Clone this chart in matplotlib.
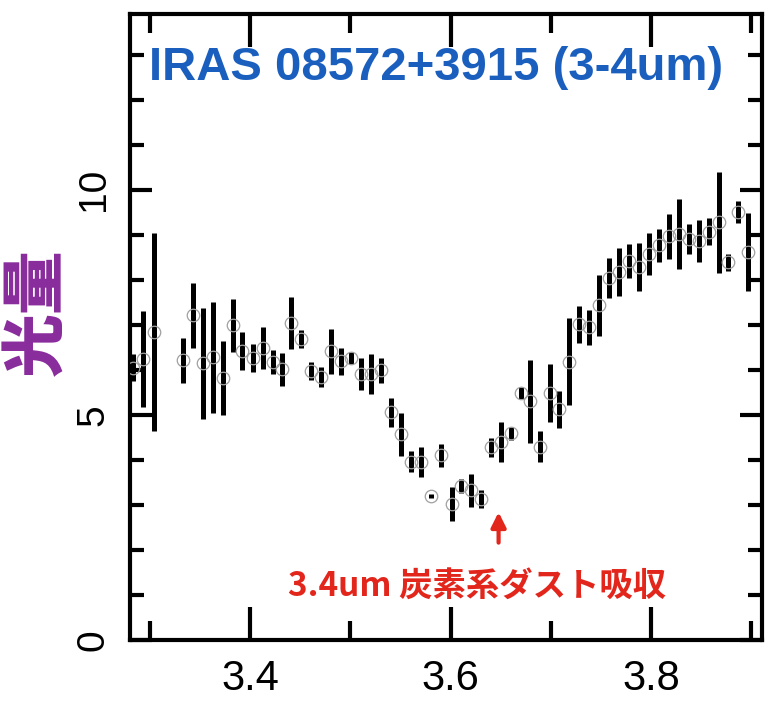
import matplotlib
matplotlib.use("Agg")
import matplotlib.pyplot as plt
from matplotlib.ticker import MultipleLocator

# wavelength (um), flux and error
wave = [3.283, 3.293, 3.304, 3.333, 3.343, 3.353, 3.363, 3.373, 3.383, 3.392,
        3.403, 3.413, 3.423, 3.432, 3.441, 3.451, 3.461, 3.471, 3.481, 3.491,
        3.501, 3.511, 3.521, 3.531, 3.541, 3.551, 3.561, 3.571, 3.581, 3.591,
        3.601, 3.610, 3.620, 3.630, 3.640, 3.650, 3.660, 3.670, 3.679, 3.689,
        3.699, 3.708, 3.718, 3.728, 3.738, 3.748, 3.758, 3.768, 3.778, 3.788,
        3.798, 3.808, 3.818, 3.828, 3.838, 3.848, 3.858, 3.868, 3.877, 3.887,
        3.897]
flux = [6.05, 6.24, 6.84, 6.21, 7.21, 6.14, 6.28, 5.82, 6.99, 6.42,
        6.26, 6.48, 6.18, 6.01, 7.04, 6.69, 5.98, 5.84, 6.41, 6.19,
        6.26, 5.91, 5.91, 5.99, 5.06, 4.57, 3.96, 3.96, 3.20, 4.10,
        3.02, 3.42, 3.32, 3.13, 4.28, 4.40, 4.59, 5.49, 5.30, 4.29,
        5.49, 5.12, 6.18, 7.01, 6.94, 7.43, 8.04, 8.17, 8.42, 8.28,
        8.57, 8.76, 8.96, 9.02, 8.91, 8.86, 9.06, 9.28, 8.39, 9.51,
        8.62]
err = [0.30, 1.07, 2.19, 0.50, 0.72, 1.23, 1.23, 0.82, 0.59, 0.42,
       0.32, 0.46, 0.27, 0.37, 0.58, 0.20, 0.20, 0.22, 0.50, 0.30,
       0.14, 0.36, 0.44, 0.28, 0.32, 0.48, 0.24, 0.33, 0.05, 0.26,
       0.38, 0.16, 0.37, 0.20, 0.21, 0.44, 0.14, 0.13, 0.92, 0.34,
       0.64, 0.41, 0.97, 0.41, 0.39, 0.68, 0.44, 0.54, 0.38, 0.54,
       0.46, 0.36, 0.49, 0.78, 0.33, 0.46, 0.30, 1.12, 0.19, 0.24,
       0.87]

title = "IRAS 08572+3915 (3-4um)"
note = "3.4um 炭素系ダスト吸収"
ylab = "光量"
sans = ["Liberation Sans", "DejaVu Sans"]

fig = plt.figure(figsize=(7.67, 7.01), dpi=100)
ax = fig.add_axes([130 / 767, 61 / 701, 632 / 767, 626 / 701])

ax.errorbar(wave, flux, yerr=err, fmt="none", ecolor="black", elinewidth=3.6, capsize=0, zorder=2)
ax.plot(wave, flux, "o", mfc="none", mec="#a0a0a0", ms=9, mew=0.9, zorder=3)

ax.set_xlim(3.28, 3.911)
ax.set_ylim(0, 13.9)

ax.xaxis.set_major_locator(MultipleLocator(0.2))
ax.xaxis.set_minor_locator(MultipleLocator(0.1))
ax.yaxis.set_major_locator(MultipleLocator(5))
ax.yaxis.set_minor_locator(MultipleLocator(1))
ax.tick_params(axis="both", which="both", direction="in", top=True, right=True, width=3, colors="black")
ax.tick_params(axis="x", which="major", length=24, pad=14)
ax.tick_params(axis="x", which="minor", length=14)
ax.tick_params(axis="y", which="major", length=16, pad=13)
ax.tick_params(axis="y", which="minor", length=10)
for s in ax.spines.values():
    s.set_linewidth(3)

ax.set_xticks([3.4, 3.6, 3.8])
ax.set_xticklabels(["3.4", "3.6", "3.8"], family=sans, fontsize=30)
ax.set_yticks([0, 5, 10])
ax.set_yticklabels(["0", "5", "10"], family=sans, fontsize=28, rotation=90, va="center")

ax.set_ylabel(ylab, family=["Noto Sans CJK JP", "DejaVu Sans"], fontsize=46, fontweight="black",
              color="#8a2c9c", va="center")
ax.yaxis.set_label_coords(-0.146, 0.524)

ax.text(3.586, 12.7, title, family=sans, fontsize=34, fontweight="bold", color="#1a5fbe",
        ha="center", va="center")
ax.text(3.627, 1.2, note, family=["Noto Sans CJK JP", "DejaVu Sans"], fontsize=24, fontweight="bold",
        color="#e2261c", ha="center", va="center")
ax.annotate("", xy=(3.648, 2.9), xytext=(3.648, 2.1),
            arrowprops=dict(arrowstyle="-|>", color="#e2261c", lw=3, mutation_scale=22))

fig.savefig("out.png", dpi=100)
